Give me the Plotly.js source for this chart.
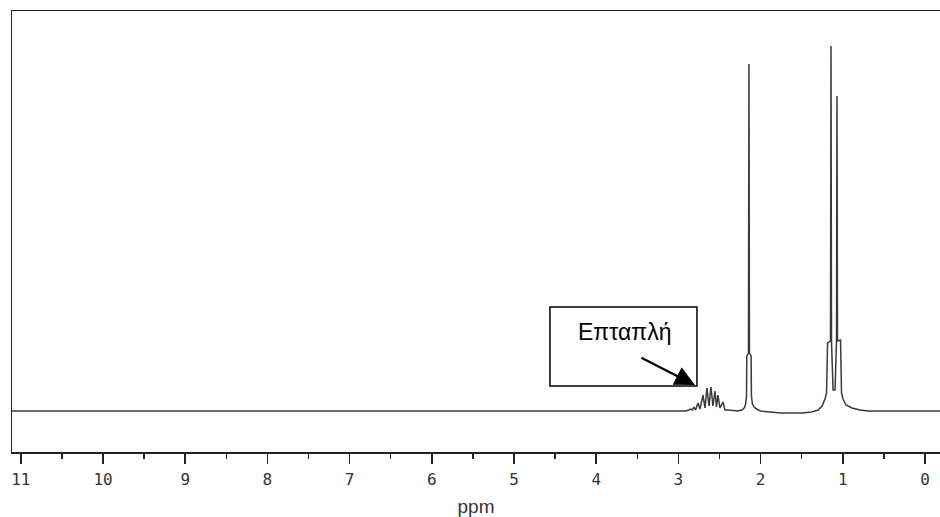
<!DOCTYPE html>
<html>
<head>
<meta charset="utf-8">
<script src="https://cdn.plot.ly/plotly-3.0.1.min.js"></script>
<style>html,body{margin:0;padding:0;background:#fff;}#chart{width:940px;height:517px;}</style>
</head>
<body>
<div id="chart"></div>
<script>
// Chemical shift (ppm), descending
const ppm = [
  11.30, 3.00, 2.908, 2.872, 2.851, 2.829, 2.811, 2.793, 2.762, 2.738, 2.701, 2.677,
  2.653, 2.628, 2.604, 2.580, 2.555, 2.537, 2.519, 2.495, 2.458, 2.434, 2.397, 2.275,
  2.230, 2.200, 2.182, 2.172, 2.168, 2.148, 2.142, 2.136, 2.116, 2.112, 2.100, 2.080,
  2.050, 2.000, 1.900, 1.750, 1.500, 1.380, 1.300, 1.253, 1.217, 1.198, 1.186, 1.150,
  1.144, 1.138, 1.119, 1.095, 1.077, 1.071, 1.065, 1.028, 1.016, 0.998, 0.961, 0.888,
  0.790, 0.690, -0.30
];
// Signal intensity (arbitrary units, baseline = 0)
const intensity = [
  0, 0, 0, 1, 2, 1, 4, 1, 8, 2, 16, 3,
  23, 5, 24, 5, 20, 4, 16, 3, 9, 1, 1, 0,
  1, 3, 7, 15, 55, 58, 347, 58, 55, 15, 7, 4,
  2, 0, -1, -2, -2, -1, 1, 5, 12, 18, 68, 70,
  365, 70, 21, 21, 70, 315, 70, 71, 18, 12, 6, 3,
  1, 0, 0
];
const tickValues = [11, 10, 9, 8, 7, 6, 5, 4, 3, 2, 1, 0];
const tickLabels = ["11", "10", "9", "8", "7", "6", "5", "4", "3", "2", "1", "0"];
const annotationText = "Επταπλή";
const arrowTarget = {ppm: 2.80, intensity: 26};

const trace = {
  x: ppm, y: intensity, type: 'scatter', mode: 'lines',
  line: {color: '#3a3a3a', width: 1.5},
  hoverinfo: 'skip'
};

const layout = {
  width: 940, height: 517,
  margin: {l: 12, r: 0, t: 11, b: 65},
  paper_bgcolor: '#fff', plot_bgcolor: '#fff',
  showlegend: false,
  xaxis: {
    range: [11.107, -0.182],
    showgrid: false, zeroline: false,
    showline: true, mirror: true, linecolor: '#222', linewidth: 1.5,
    ticks: 'outside', ticklen: 10, tickwidth: 1.5, tickcolor: '#222',
    tickvals: tickValues, ticktext: tickLabels,
    ticklabelstandoff: 2,
    tickfont: {family: 'DejaVu Sans Mono', size: 16, color: '#333'},
    minor: {dtick: 0.5, tick0: 0, ticks: 'outside', ticklen: 5, tickwidth: 1.5, tickcolor: '#222', showgrid: false},
    title: {text: 'ppm', font: {family: 'Liberation Sans', size: 19, color: '#333'}, standoff: 14}
  },
  yaxis: {
    range: [-41, 400],
    showgrid: false, zeroline: false, showticklabels: false, ticks: '',
    showline: true, linecolor: '#222', linewidth: 1.5
  },
  shapes: [
    {type: 'rect', xref: 'paper', yref: 'paper', x0: 0.5797, x1: 0.7381, y0: 0.1497, y1: 0.3288,
     line: {color: '#000', width: 1.5}, fillcolor: 'rgba(0,0,0,0)'}
  ],
  annotations: [
    {xref: 'paper', yref: 'paper', x: 0.6605, y: 0.272, text: annotationText, showarrow: false,
     font: {family: 'Liberation Sans', size: 23, color: '#000'}, xanchor: 'center', yanchor: 'middle'},
    {x: arrowTarget.ppm, y: arrowTarget.intensity, xref: 'x', yref: 'y', text: '', showarrow: true,
     ax: -55, ay: -28, arrowhead: 2, arrowsize: 1.8, arrowwidth: 2.2, arrowcolor: '#000', standoff: 0}
  ]
};

Plotly.newPlot('chart', [trace], layout, {displayModeBar: false, staticPlot: true});
</script>
</body>
</html>
